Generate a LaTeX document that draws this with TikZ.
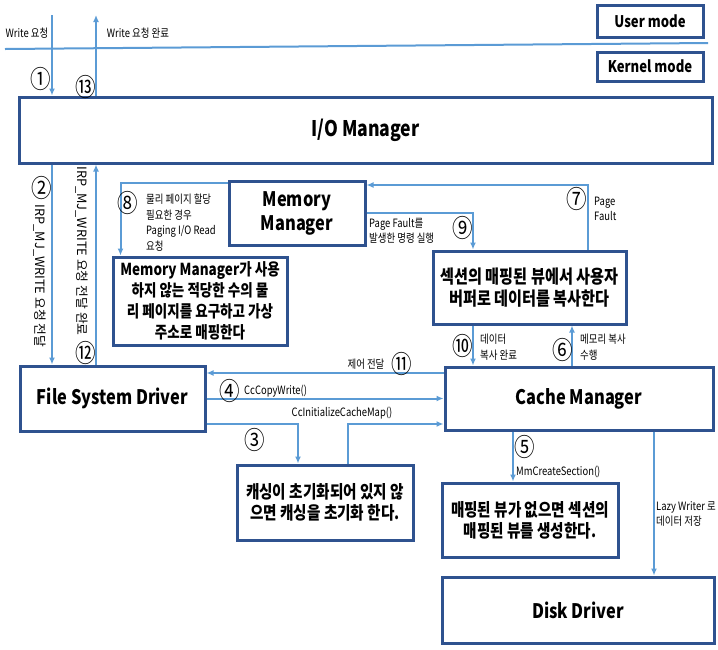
\documentclass[tikz,border=0pt]{standalone}
\usepackage{fontspec}
\setmainfont{Noto Sans CJK KR}[FakeStretch=0.82]
\newfontfamily\plainfont{Noto Sans CJK KR}
\usetikzlibrary{arrows.meta}
\definecolor{boxblue}{RGB}{47,82,143}
\definecolor{arrblue}{RGB}{91,155,213}
\begin{document}
\begin{tikzpicture}[>={Latex[length=7pt,width=6pt]}, x=1pt, y=-1pt,
  box/.style={draw=boxblue, line width=3pt, fill=white, inner sep=0pt, align=center},
  big/.style={font=\bfseries\fontsize{20}{24}\selectfont},
  txt/.style={font=\bfseries\fontsize{17.8}{21}\selectfont},
  modebox/.style={font=\bfseries\fontsize{16}{18}\selectfont},
  arr/.style={->, draw=arrblue, line width=2pt},
  lbl/.style={font=\fontsize{11.5}{15.5}\selectfont, align=left, inner sep=0pt},
  vlbl/.style={font=\plainfont\fontsize{12.8}{14}\selectfont, inner sep=0pt, rotate=-90},
  num/.style={font=\fontsize{25}{25}\selectfont, inner sep=0pt}]
\useasboundingbox (0,0) rectangle (718,649);
% user / kernel
\node[box, modebox, minimum width=106pt, minimum height=32pt] (user) at (650,21) {User mode};
\node[box, modebox, minimum width=106pt, minimum height=29pt] (kernel) at (650,66.5) {Kernel mode};
\draw[arrblue, line width=2pt] (5,49) -- (708,43);
% boxes
\node[box, font=\bfseries\fontsize{21.5}{24}\selectfont, minimum width=693pt, minimum height=66pt] (io) at (365.5,130) {I/O Manager};
\node[box, font=\bfseries\fontsize{20}{24}\selectfont, minimum width=136pt, minimum height=64pt] (mm) at (297,213) {Memory\\Manager};
\node[box, font=\bfseries\fontsize{16.5}{21}\selectfont, minimum width=174pt, minimum height=88pt] (mmreq) at (200,301) {Memory Manager가 사용\\하지 않는 적당한 수의 물\\리 페이지를 요구하고 가상\\주소로 매핑한다};
\node[box, font=\bfseries\fontsize{18.5}{22}\selectfont, minimum width=193pt, minimum height=73pt] (sec) at (529.5,287.5) {섹션의 매핑된 뷰에서 사용자\\버퍼로 데이터를 복사한다};
\node[box, big, minimum width=185pt, minimum height=65pt] (fsd) at (112.5,398.5) {File System Driver};
\node[box, big, minimum width=268pt, minimum height=63pt] (cm) at (579,398.5) {Cache Manager};
\node[box, txt, minimum width=176pt, minimum height=75pt] (cache) at (325,502.5) {캐싱이 초기화되어 있지 않\\으면 캐싱을 초기화 한다.};
\node[box, txt, minimum width=176pt, minimum height=74pt] (mksec) at (530,520) {매핑된 뷰가 없으면 섹션의\\매핑된 뷰를 생성한다.};
\node[box, big, minimum width=272pt, minimum height=66pt] (disk) at (578,610) {Disk Driver};
% points
\coordinate (wr) at (52,15);
\coordinate (wd) at (96,15);
\coordinate (pf) at (588,185);
\coordinate (ex) at (473,213);
\coordinate (cp) at (572,0);
\coordinate (c11) at (0,373);
\coordinate (c3) at (298,424);
\coordinate (ci) at (348,424);
\coordinate (c5) at (513,0);
\coordinate (lw) at (654,0);
% connectors
\draw[arr] (wr) -- (wr |- io.north);
\draw[arr] (io.north -| wd) -- (wd);
\draw[arr] (io.south -| wr) -- (fsd.north -| wr);
\draw[arr] (fsd.north -| wd) -- (io.south -| wd);
\draw[arr] ([yshift=-3pt]mm.north west) -| ([xshift=9pt]mmreq.north west);
\draw[arr] (sec.north -| pf) |- (mm.east |- pf);
\draw[arr] (mm.east) -| (sec.north -| ex);
\draw[arr] (sec.south -| ex) -- (cm.north -| ex);
\draw[arr] (cm.north -| cp) -- (sec.south -| cp);
\draw[arr] (cm.west |- c11) -- (fsd.east |- c11);
\draw[arr] (fsd.east) -- (cm.west);
\draw[arr] (fsd.east |- c3) -| (cache.north -| c3);
\draw[arr] (cache.north -| ci) |- (cm.west |- ci);
\draw[arr] (cm.south -| c5) -- (mksec.north -| c5);
\draw[arr] (cm.south -| lw) -- (disk.north -| lw);
% labels
\node[lbl] at (27,33) {Write 요청};
\node[lbl] at (138,33) {Write 요청 완료};
\node[vlbl] at (40,276) {IRP\_MJ\_WRITE 요청 전달};
\node[vlbl] at (82,251) {IRP\_MJ\_WRITE 요청 전달 완료};
\node[lbl, anchor=north west] at (146,194) {물리 페이지 할당\\필요한 경우\\Paging I/O Read\\요청};
\node[lbl, anchor=west] at (594,209) {Page\\Fault};
\node[lbl, anchor=west] at (369,231) {Page Fault를\\발생한 명령 실행};
\node[lbl, anchor=west] at (480,347) {데이터\\복사 완료};
\node[lbl, anchor=west] at (580,347) {메모리 복사\\수행};
\node[lbl] at (366,364) {제어 전달};
\node[lbl, anchor=west] at (244,391) {CcCopyWrite()};
\node[lbl] at (342,413) {CcInitializeCacheMap()};
\node[lbl, anchor=west] at (516,472) {MmCreateSection()};
\node[lbl, anchor=west] at (656,514) {Lazy Writer 로\\데이터 저장};
% numbers
\node[num] at (41,79) {①};
\node[num] at (42,188) {②};
\node[num] at (255,440) {③};
\node[num] at (230,391) {④};
\node[num] at (525,447) {⑤};
\node[num] at (563,350) {⑥};
\node[num] at (577,199) {⑦};
\node[num] at (128,203) {⑧};
\node[num] at (463,228) {⑨};
\node[num] at (463,346) {⑩};
\node[num] at (402,364) {⑪};
\node[num] at (86,353) {⑫};
\node[num] at (86,87) {⑬};
\end{tikzpicture}
\end{document}
